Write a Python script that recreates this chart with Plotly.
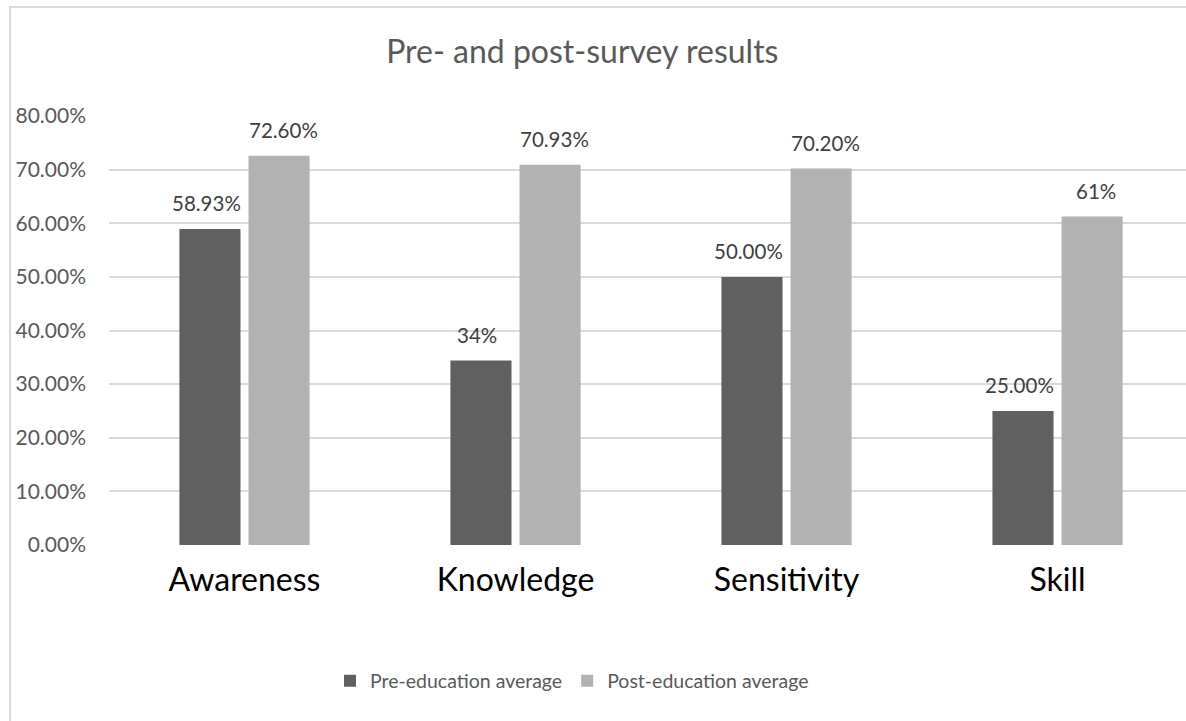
import plotly.graph_objects as go

categories = ["Awareness", "Knowledge", "Sensitivity", "Skill"]
pre_values = [0.5893, 0.344, 0.50, 0.25]
post_values = [0.726, 0.7093, 0.702, 0.6125]
pre_labels = ["58.93%", "34%", "50.00%", "25.00%"]
post_labels = ["72.60%", "70.93%", "70.20%", "61%"]
y_ticks = [0, 0.1, 0.2, 0.3, 0.4, 0.5, 0.6, 0.7, 0.8]
y_ticklabels = ["0.00%", "10.00%", "20.00%", "30.00%", "40.00%", "50.00%", "60.00%", "70.00%", "80.00%"]

FONT = "Lato"
PRE_COLOR = "#606060"
POST_COLOR = "#b2b2b2"
W, H = 1186, 721

fig = go.Figure()
fig.add_trace(go.Bar(name="Pre-education average", x=categories, y=pre_values,
                     marker=dict(color=PRE_COLOR, line=dict(width=0))))
fig.add_trace(go.Bar(name="Post-education average", x=categories, y=post_values,
                     marker=dict(color=POST_COLOR, line=dict(width=0))))
# empty trace so that the frame subplot (chart-area border) is rendered
fig.add_trace(go.Scatter(x=[], y=[], xaxis="x2", yaxis="y2", showlegend=False,
                         hoverinfo="skip", mode="lines"))

annotations = []
for cat, v, lab in zip(categories, pre_values, pre_labels):
    annotations.append(dict(x=cat, y=v, xref="x", yref="y", text=lab, showarrow=False,
                            xshift=-38.5, yshift=12, yanchor="bottom",
                            font=dict(family=FONT, size=20.5, color="#404040")))
for cat, v, lab in zip(categories, post_values, post_labels):
    annotations.append(dict(x=cat, y=v, xref="x", yref="y", text=lab, showarrow=False,
                            xshift=38.5, yshift=12, yanchor="bottom",
                            font=dict(family=FONT, size=20.5, color="#404040")))

fig.update_layout(
    width=W, height=H,
    margin=dict(l=0, r=0, t=0, b=0),
    paper_bgcolor="white", plot_bgcolor="rgba(0,0,0,0)",
    barmode="group", bargap=0.49, bargroupgap=0.116,
    title=dict(text="Pre- and post-survey results", x=0.491, xref="container", xanchor="center",
               y=0.928, yref="container", yanchor="middle",
               font=dict(family=FONT, size=32, color="#595959")),
    xaxis=dict(domain=[109 / W, 1], range=[-0.5, 3.474], showgrid=False, showline=False,
               zeroline=False, ticks="", ticklabelstandoff=13, automargin=False,
               tickfont=dict(family=FONT, size=32, color="#000000")),
    yaxis=dict(domain=[176 / H, 605 / H], range=[0, 0.8], tickvals=y_ticks, ticktext=y_ticklabels,
               showgrid=True, gridcolor="#d9d9d9", gridwidth=1.5, automargin=False,
               zeroline=False, showline=False, ticks="", ticklabelstandoff=22,
               tickfont=dict(family=FONT, size=21, color="#595959")),
    # chart-area border (left and top edges) drawn as axis lines of an empty frame subplot
    xaxis2=dict(domain=[11 / W, 1], anchor="y2", side="top", showline=True, linecolor="#d9d9d9",
                linewidth=2, showgrid=False, zeroline=False, showticklabels=False, ticks="",
                automargin=False, fixedrange=True, range=[0, 1]),
    yaxis2=dict(domain=[0, 1 - 8 / H], anchor="x2", showline=True, linecolor="#d9d9d9",
                linewidth=2, showgrid=False, zeroline=False, showticklabels=False, ticks="",
                automargin=False, fixedrange=True, range=[0, 1]),
    legend=dict(orientation="h", x=572 / W, xanchor="center", y=1 - 681 / H, yanchor="middle",
                font=dict(family=FONT, size=19.5, color="#595959"), itemclick=False),
    annotations=annotations,
)

fig.write_html("out.html")
